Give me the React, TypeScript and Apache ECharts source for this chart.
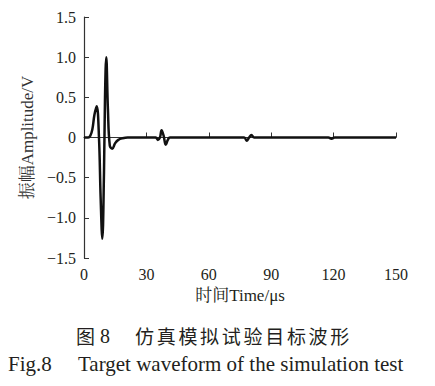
import React, { useEffect, useRef } from "react";
import * as echarts from "echarts";

const timeUs = [0, 2, 3, 4, 5, 6.1, 7.2, 8, 8.8, 9.6, 10.1, 10.7, 11.5, 12.4, 13.6, 15, 16.5, 18.5, 21, 30, 34.5, 35.5, 36.5, 37.3, 38.3, 39.3, 40.3, 41.3, 45, 60, 77, 78.2, 79.4, 80.5, 81.8, 90, 117.5, 119, 120.5, 150];
const amplitude = [0, 0, 0.02, 0.1, 0.28, 0.39, 0.0, -0.75, -1.26, -0.45, 0.5, 1.0, 0.35, -0.1, -0.14, -0.07, -0.03, -0.01, 0, 0, 0, -0.03, 0.0, 0.09, 0.02, -0.09, -0.03, 0, 0, 0, 0, -0.04, 0.0, 0.03, 0, 0, 0, -0.015, 0, 0];
const xTicks = [0, 30, 60, 90, 120, 150];
const yTicks = [-1.5, -1.0, -0.5, 0, 0.5, 1.0, 1.5];
const xName = "时间Time/μs";
const yName = "振幅Amplitude/V";
const captionCnFig = "图";
const captionCnNum = "8";
const captionCnChars = "仿真模拟试验目标波形";
const captionEnPrefix = "Fig.8";
const captionEnText = "Target waveform of the simulation test";

const SERIF = "'Liberation Serif', 'Times New Roman', 'Noto Serif CJK SC', 'Noto Sans CJK SC', serif";
const TEXT = "#231f20";

export default function App() {
  const ref = useRef<HTMLDivElement>(null);
  useEffect(() => {
    document.body.style.margin = "0";
    const chart = echarts.init(ref.current!, null, { renderer: "svg" });
    const data = timeUs.map((t, i) => [t, amplitude[i]]);
    const fmtY = (v: number) => (v === 0 ? "0" : v.toFixed(1).replace("-", "−"));
    const cnGraphics = captionCnChars.split("").map((c, i) => ({
      type: "text",
      left: 135 + i * 21.7,
      top: 326,
      style: { text: c, font: `19px 'Noto Sans CJK SC', sans-serif`, fill: TEXT },
    }));
    chart.setOption({
      animation: false,
      backgroundColor: "#fff",
      grid: { left: 84, right: 39, top: 17, bottom: 128 },
      xAxis: {
        type: "value",
        min: xTicks[0],
        max: xTicks[xTicks.length - 1],
        interval: 30,
        name: xName,
        nameLocation: "middle",
        nameGap: 29,
        nameTextStyle: { fontFamily: SERIF, fontSize: 17, color: TEXT },
        axisLine: { show: true, lineStyle: { color: "#333", width: 1.2 } },
        axisTick: { show: true, inside: true, length: 5, lineStyle: { color: "#333" } },
        axisLabel: { fontFamily: SERIF, fontSize: 16, color: TEXT, margin: 8 },
        splitLine: { show: false },
      },
      yAxis: {
        type: "value",
        min: yTicks[0],
        max: yTicks[yTicks.length - 1],
        interval: 0.5,
        name: yName,
        nameLocation: "middle",
        nameGap: 47,
        nameTextStyle: { fontFamily: SERIF, fontSize: 17, color: "#333" },
        axisLine: { show: true, onZero: false, lineStyle: { color: "#333", width: 1.2 } },
        axisTick: { show: true, inside: true, length: 5, lineStyle: { color: "#333" } },
        axisLabel: { fontFamily: SERIF, fontSize: 16, color: TEXT, margin: 8, formatter: fmtY },
        splitLine: { show: false },
      },
      series: [
        {
          type: "line",
          data,
          smooth: 0.4,
          showSymbol: false,
          lineStyle: { color: "#111", width: 2.5 },
        },
      ],
      graphic: [
        {
          type: "text",
          left: 76,
          top: 326,
          style: { text: captionCnFig, font: `19px 'Noto Sans CJK SC', sans-serif`, fill: TEXT },
        },
        {
          type: "text",
          left: 100,
          top: 326,
          style: { text: captionCnNum, font: `20px ${SERIF}`, fill: TEXT },
        },
        ...cnGraphics,
        {
          type: "text",
          left: 8,
          top: 353,
          style: { text: captionEnPrefix, font: `21px ${SERIF}`, fill: TEXT },
        },
        {
          type: "text",
          left: 78,
          top: 353,
          style: { text: captionEnText, font: `21px ${SERIF}`, fill: TEXT },
        },
      ],
    });
    return () => chart.dispose();
  }, []);
  return <div ref={ref} style={{ width: 435, height: 386 }} />;
}
